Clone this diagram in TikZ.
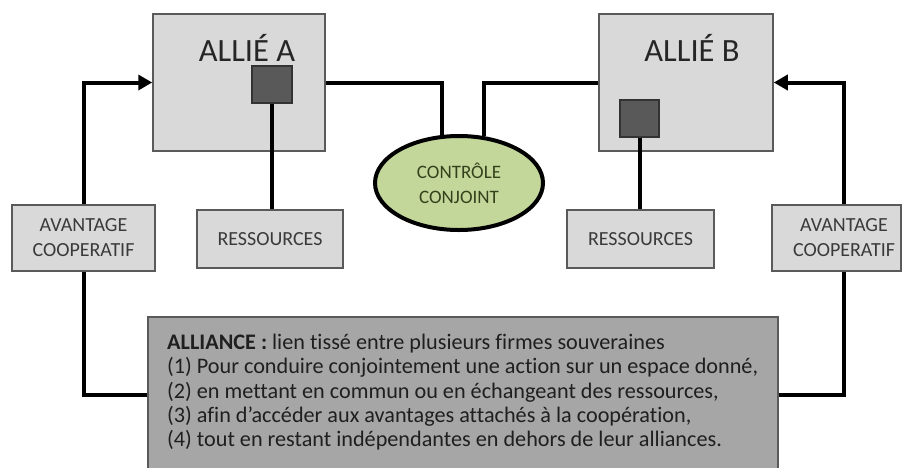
\documentclass[tikz,border=0pt]{standalone}
\usepackage{fontspec}
\setmainfont[Ligatures=NoCommon]{Carlito}
\usetikzlibrary{shapes.geometric,arrows.meta,calc}
\definecolor{boxfill}{HTML}{D9D9D9}
\definecolor{boxdraw}{HTML}{5A5A5A}
\definecolor{sqfill}{HTML}{595959}
\definecolor{ellfill}{HTML}{C4D79B}
\definecolor{ellText}{HTML}{34421C}
\definecolor{allifill}{HTML}{A6A6A6}
\definecolor{txt}{HTML}{3A3A3A}
\tikzset{
  ally/.style={draw=boxdraw,line width=1.5pt,fill=boxfill,minimum width=172pt,minimum height=137pt,inner sep=0pt},
  smallsq/.style={draw=black!80,line width=1.2pt,fill=sqfill,minimum width=40pt,minimum height=37pt,inner sep=0pt},
  lbox/.style={draw=boxdraw,line width=1.5pt,fill=boxfill,minimum width=146pt,minimum height=58pt,inner sep=0pt,font=\fontsize{20}{25}\selectfont,text=txt,align=center},
  ttl/.style={font=\fontsize{32.5}{36}\selectfont,text=black!85,inner sep=0pt},
  aline/.style={anchor=base west,inner sep=0pt,font=\fontsize{22.2}{24.5}\selectfont,text=black!88},
  conn/.style={line width=4pt,black},
  arr/.style={conn,-{Triangle[length=14pt,width=15pt]}},
}
\begin{document}
\begin{tikzpicture}[x=1pt,y=-1pt]
\useasboundingbox (0,0) rectangle (904,467);
% boxes
\node[ally] (allA) at (239,82.5) {};
\node[ttl] (tA) at (247,48) {ALLIÉ A};
\node[smallsq] (sqA) at (272,84.5) {};
\node[ally,minimum width=174pt] (allB) at (686,82.5) {};
\node[ttl] (tB) at (692,48) {ALLIÉ B};
\node[smallsq,minimum width=39pt] (sqB) at (639.5,118.5) {};
\node[lbox] (resA) at (270,239) {RESSOURCES};
\node[lbox,minimum width=147pt] (resB) at (640.5,239) {RESSOURCES};
\node[lbox,minimum width=143pt,minimum height=66pt] (avA) at (83.5,238) {AVANTAGE\\COOPERATIF};
\node[lbox,minimum width=129pt,minimum height=66pt] (avB) at (836.5,238) {};
\node[lbox,draw=none,fill=none,minimum width=0pt,minimum height=66pt] (avBt) at (844,238) {AVANTAGE\\COOPERATIF};
\node[ellipse,draw=black,line width=4pt,fill=ellfill,minimum width=168pt,minimum height=94pt,inner sep=0pt,
      font=\fontsize{19}{25}\selectfont,text=ellText,align=center] (ell) at (459,183) {CONTRÔLE\\CONJOINT};
\node[draw=boxdraw,line width=1.5pt,fill=allifill,minimum width=630pt,minimum height=156pt,inner sep=0pt] (alli) at (463,395) {};
\node[aline] (l0) at (167,349) {\textbf{ALLIANCE :} lien tissé entre plusieurs firmes souveraines};
\node[aline] (l1) at (167,373.5) {(1) Pour conduire conjointement une action sur un espace donné,};
\node[aline] (l2) at (167,398) {(2) en mettant en commun ou en échangeant des ressources,};
\node[aline] (l3) at (167,422) {(3) afin d’accéder aux avantages attachés à la coopération,};
\node[aline] (l4) at (167,446.5) {(4) tout en restant indépendantes en dehors de leur alliances.};
% connectors
\draw[arr] (avA.north) |- (allA.west);
\draw[arr] (avBt.north |- avB.north) |- (allB.east);
\draw[conn] (sqA.south) -- (sqA.south |- resA.north);
\draw[conn] (sqB.south) -- (sqB.south |- resB.north);
\draw[conn] (allA.east) -| (ell.110);
\draw[conn] (allB.west) -| (ell.62);
\draw[conn] (avA.south) |- (alli.west);
\draw[conn] (avBt.south |- avB.south) |- (alli.east);
\end{tikzpicture}
\end{document}
